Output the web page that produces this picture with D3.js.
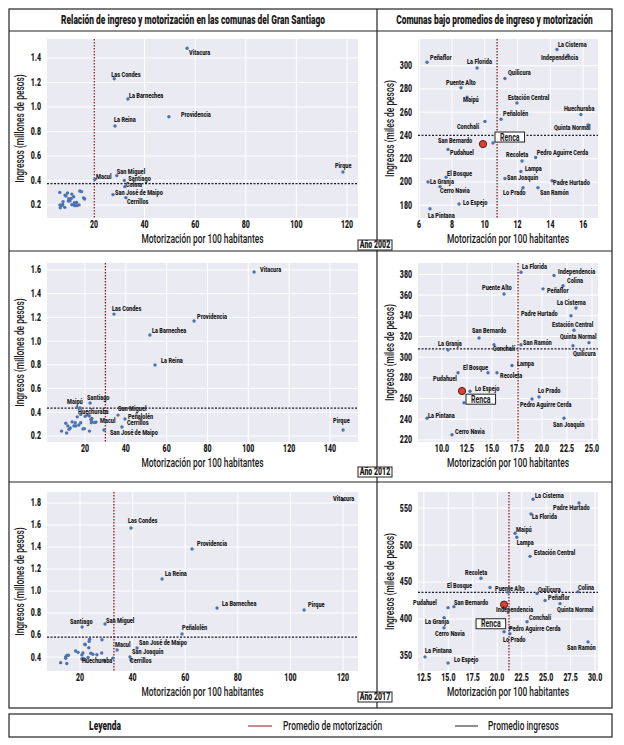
<!DOCTYPE html>
<html>
<head>
<meta charset="utf-8">
<script src="https://cdn.jsdelivr.net/npm/d3@7"></script>
<style>
body { margin: 0; background: #fff; }
text { font-family: "Roboto", "DejaVu Sans Condensed", sans-serif; fill: #1a1a1a; }
</style>
</head>
<body>
<svg id="chart" width="624" height="745"></svg>
<script>
// ---- data -----------------------------------------------------------
var years = ["2002", "2012", "2017"];

// comunas etiquetadas en el panel general: [comuna, motorización por 100 hab., ingreso en millones]
var general2002 = [
    ["Vitacura", 56.8, 1.48], ["Las Condes", 28.0, 1.23], ["La Barnechea", 33.4, 1.065],
    ["Providencia", 49.6, 0.92], ["La Reina", 28.3, 0.845], ["Pirque", 118.4, 0.47],
    ["Macul", 20.4, 0.41], ["San Miguel", 29.0, 0.44], ["Santiago", 32.0, 0.40],
    ["Colina", 32.2, 0.35], ["San José de Maipo", 27.5, 0.285], ["Cerrillos", 32.6, 0.26]
];
var general2012 = [
    ["Vitacura", 102.8, 1.583], ["Las Condes", 34.2, 1.228], ["Providencia", 73.4, 1.17],
    ["La Barnechea", 51.8, 1.051], ["La Reina", 54.3, 0.798], ["Pirque", 146.4, 0.25],
    ["Santiago", 22.5, 0.478], ["Maipú", 16.1, 0.44], ["Huechuraba", 17.6, 0.437],
    ["San Miguel", 36.2, 0.376], ["Peñalolén", 39.6, 0.343], ["Macul", 25.4, 0.317],
    ["Cerrillos", 38.1, 0.275], ["San José de Maipo", 29.3, 0.25]
];
var general2017 = [
    ["Vitacura", 120.0, 1.83], ["Las Condes", 39.4, 1.573], ["Providencia", 62.6, 1.382],
    ["La Reina", 51.2, 1.109], ["La Barnechea", 72.1, 0.845], ["Pirque", 105.2, 0.827],
    ["Santiago", 20.8, 0.673], ["San Miguel", 29.5, 0.70], ["Peñalolén", 58.8, 0.609],
    ["Macul", 34.1, 0.464], ["San José de Maipo", 41.7, 0.482], ["San Joaquín", 39.0, 0.40],
    ["Cerrillos", 39.4, 0.373], ["Huechuraba", 32.5, 0.39]
];

// comunas bajo ambos promedios: [comuna, motorización, ingreso en miles]
var bajo2002 = [
    ["Peñaflor", 6.48, 303], ["La Florida", 9.53, 298], ["La Cisterna", 14.4, 314],
    ["Independencia", 15.07, 309], ["Quilicura", 11.23, 289], ["Puente Alto", 8.55, 281],
    ["Maipú", 8.92, 273], ["Estación Central", 11.96, 268], ["Huechuraba", 15.86, 258],
    ["Peñalolén", 10.99, 254], ["Conchalí", 10.01, 252], ["Quinta Normal", 16.29, 249],
    ["San Bernardo", 9.89, 233], ["Renca", 10.5, 233.5], ["Pudahuel", 7.76, 228],
    ["Recoleta", 12.27, 218], ["Pedro Aguirre Cerda", 13.1, 221], ["Lampa", 12.2, 209],
    ["El Bosque", 7.64, 204], ["La Granja", 6.54, 200], ["Cerro Navia", 7.27, 196],
    ["San Joaquín", 11.23, 203], ["Padre Hurtado", 14.1, 201], ["Lo Prado", 12.33, 195],
    ["San Ramón", 13.24, 195], ["Lo Espejo", 8.43, 181], ["La Pintana", 6.66, 177]
];
var bajo2012 = [
    ["La Florida", 17.9, 382], ["Independencia", 21.2, 379], ["Colina", 22.1, 369],
    ["Peñaflor", 20.1, 366], ["Puente Alto", 16.2, 361], ["La Cisterna", 23.4, 347.5],
    ["Padre Hurtado", 22.9, 340], ["Estación Central", 23.2, 326], ["San Bernardo", 13.7, 318.5],
    ["Quinta Normal", 24.7, 314], ["San Ramón", 17.9, 312], ["Quilicura", 23.1, 311],
    ["Conchalí", 15.2, 312], ["La Granja", 10.6, 307], ["Lampa", 17.0, 292],
    ["El Bosque", 14.6, 285], ["Recoleta", 15.5, 285], ["Pudahuel", 11.6, 285],
    ["Lo Espejo", 12.8, 267], ["Renca", 12.2, 256], ["Lo Prado", 19.7, 261.5],
    ["Pedro Aguirre Cerda", 19.0, 259.6], ["La Pintana", 8.5, 241], ["San Joaquín", 22.2, 241],
    ["Cerro Navia", 11.0, 225]
];
var bajo2017 = [
    ["La Cisterna", 23.66, 562], ["Padre Hurtado", 28.36, 557], ["La Florida", 23.45, 542],
    ["Maipú", 21.82, 516], ["Lampa", 22.0, 510.6], ["Estación Central", 23.35, 484.7],
    ["Recoleta", 18.34, 455], ["El Bosque", 19.26, 442.6], ["Puente Alto", 21.1, 436],
    ["Quilicura", 24.07, 434.4], ["Colina", 28.26, 437], ["Peñaflor", 24.89, 425],
    ["Pudahuel", 14.97, 415.3], ["San Bernardo", 15.58, 416.7], ["Independencia", 20.7, 419.4],
    ["Quinta Normal", 26.42, 420.8], ["Conchalí", 23.05, 396.3], ["La Granja", 14.56, 401.7],
    ["Cerro Navia", 14.56, 388], ["Pedro Aguirre Cerda", 21.3, 388], ["Lo Prado", 21.3, 380],
    ["Renca", 20.7, 382.7], ["San Ramón", 29.28, 369], ["La Pintana", 12.62, 348.7],
    ["Lo Espejo", 14.97, 340.5]
];

// promedios [motorización, ingreso]
var promedioGeneral = { "2002": [20.1, 0.375], "2012": [30.0, 0.434], "2017": [32.9, 0.58] };
var promedioBajo = { "2002": [10.75, 240], "2012": [17.6, 308], "2017": [21.2, 436] };
// círculo rojo que resalta Renca
var marcaRenca = { "2002": [9.89, 232.6], "2012": [12.0, 267.3], "2017": [20.7, 419.4] };

var ticksGeneralX = { "2002": [20, 40, 60, 80, 100, 120], "2012": [20, 40, 60, 80, 100, 120, 140], "2017": [20, 40, 60, 80, 100, 120] };
var ticksGeneralY = { "2002": [0.2, 0.4, 0.6, 0.8, 1.0, 1.2, 1.4], "2012": [0.2, 0.4, 0.6, 0.8, 1.0, 1.2, 1.4, 1.6], "2017": [0.4, 0.6, 0.8, 1.0, 1.2, 1.4, 1.6, 1.8] };
var ticksBajoX = { "2002": [6, 8, 10, 12, 14, 16], "2012": [10, 12.5, 15, 17.5, 20, 22.5, 25], "2017": [12.5, 15, 17.5, 20, 22.5, 25, 27.5, 30] };
var ticksBajoY = { "2002": [180, 200, 220, 240, 260, 280, 300], "2012": [220, 240, 260, 280, 300, 320, 340, 360, 380], "2017": [350, 400, 450, 500, 550] };

// ---- layout ---------------------------------------------------------
var domGeneral = {
    "2002": { x: [1.42, 124.35], y: [0.094, 1.555] },
    "2012": { x: [1.4, 153.7], y: [0.149, 1.659] },
    "2017": { x: [7.45, 125.7], y: [0.273, 1.9] }
};
var domBajo = {
    "2002": { x: [5.93, 16.9], y: [169, 323] },
    "2012": { x: [7.6, 25.6], y: [218, 391] },
    "2017": { x: [11.9, 30.3], y: [329.6, 571.8] }
};

// label offsets (px) from each point to the label's left/middle
var offGeneral = {
    "2002": { "Vitacura": [2, 4], "Las Condes": [-3, -4], "La Barnechea": [1, -3], "Providencia": [12, -2],
        "La Reina": [-1, -6], "Pirque": [-8, -6], "Macul": [1, -3], "San Miguel": [0, -4], "Santiago": [4, -2],
        "Colina": [1, -2], "San José de Maipo": [2, -2], "Cerrillos": [1, 4] },
    "2012": { "Vitacura": [6, -2], "Las Condes": [-2, -5], "Providencia": [3, -4], "La Barnechea": [2, -4],
        "La Reina": [6, -4], "Pirque": [-10, -9], "Santiago": [-3, -5], "Maipú": [-10, -6], "Huechuraba": [-2, 4],
        "San Miguel": [0, -6], "Peñalolén": [3, -2], "Macul": [4, -1], "Cerrillos": [5, -4], "San José de Maipo": [6, 3] },
    "2017": { "Vitacura": [-10, -1], "Las Condes": [-3, -7], "Providencia": [5, -5], "La Reina": [3, -5],
        "La Barnechea": [5, -4], "Pirque": [4, -5], "Santiago": [-12, -5], "San Miguel": [1, -3], "Peñalolén": [0, -6],
        "Macul": [-2, -5], "San José de Maipo": [2, -5], "San Joaquín": [2, -5], "Cerrillos": [-1, 1], "Huechuraba": [-31, 3] }
};
var offBajo = {
    "2002": { "Peñaflor": [3, -5], "La Florida": [-10, -6], "La Cisterna": [1, -5], "Independencia": [-27, 2],
        "Quilicura": [3, -6], "Puente Alto": [-15, -5], "Maipú": [-4, 3], "Estación Central": [-9, -5],
        "Huechuraba": [-17, -6], "Peñalolén": [2, -6], "Conchalí": [-28, 5], "Quinta Normal": [-34, 3],
        "San Bernardo": [-45, -3], "Renca": [7, -6], "Pudahuel": [2, 3], "Recoleta": [-16, -6],
        "Pedro Aguirre Cerda": [1, -5], "Lampa": [4, -3], "El Bosque": [1, -4], "San Joaquín": [2, -1],
        "La Granja": [2, 0], "Padre Hurtado": [1, 2], "Cerro Navia": [0, 4], "Lo Prado": [-20, 5],
        "San Ramón": [2, 5], "Lo Espejo": [4, -1], "La Pintana": [-2, 7] },
    "2012": { "La Florida": [1, -6], "Independencia": [4, -4], "Colina": [4, -5], "Peñaflor": [4, 2],
        "Puente Alto": [-22, -6], "La Cisterna": [-19, -5], "Padre Hurtado": [-50, -2], "Estación Central": [-22, -6],
        "San Bernardo": [-7, -7], "Quinta Normal": [-29, -6], "San Ramón": [2, -2], "Quilicura": [0, 8],
        "Conchalí": [-1, 4], "La Granja": [-10, -6], "Lampa": [5, -2], "El Bosque": [-25, -5], "Recoleta": [3, 3],
        "Pudahuel": [-25, 6], "Lo Espejo": [5, -3], "Renca": [7, -3.5], "Lo Prado": [-1, -6],
        "Pedro Aguirre Cerda": [-12, 6], "La Pintana": [1, -3], "San Joaquín": [-11, 6], "Cerro Navia": [3, -3] },
    "2017": { "La Cisterna": [2, -4], "Padre Hurtado": [-26, 5], "La Florida": [1, 3], "Maipú": [1, -4],
        "Lampa": [0, 5], "Estación Central": [4, -4], "Recoleta": [-16, -6], "El Bosque": [-43, -2],
        "Puente Alto": [-13, -4], "Quilicura": [1, -4], "Colina": [0, -4], "Peñaflor": [3, -3],
        "Pudahuel": [-35, -5], "San Bernardo": [0, -4], "Independencia": [-8, 5], "Quinta Normal": [-3, 6],
        "Conchalí": [2, -4], "La Granja": [-19, 4], "Cerro Navia": [-9, 6], "Pedro Aguirre Cerda": [-1, 1],
        "Lo Prado": [-7, 6], "Renca": [-23, -8], "San Ramón": [-21, 6], "La Pintana": [0, -6], "Lo Espejo": [6, -3] }
};

var generalData = { "2002": general2002, "2012": general2012, "2017": general2017 };
var bajoData = { "2002": bajo2002, "2012": bajo2012, "2017": bajo2017 };

var frame = { left: 9, right: 612, top: 9, bottom: 708, divider: 377, titleBottom: 31 };
var rowSeparators = [251, 482];
var rowTops = { "2002": 39, "2012": 263, "2017": 492 };
var tagCentres = { "2002": 245, "2012": 472, "2017": 697 };
var plotH = 179;
var leftPlot = { x0: 47, x1: 358 };
var rightPlot = { x0: 418, x1: 598 };

var bg = "#eaeaf2";
var dotColour = "#4c72b0";
var motorColour = "#8b1c1c";
var ingresoColour = "#1c1c2c";
var SX = 0.7;   // horizontal squeeze to mimic the condensed face
var HEAVY = 900;

var svg = d3.select("#chart");

// condensed text helper
function ctext(parent, x, y, str, size, weight, anchor, rotate) {
    return parent.append("text")
        .attr("transform", "translate(" + x + "," + y + ")" + (rotate ? " rotate(" + rotate + ")" : "") + " scale(" + SX + ",1)")
        .attr("text-anchor", anchor || "start")
        .attr("dominant-baseline", "central")
        .attr("font-size", size)
        .attr("font-weight", weight || "normal")
        .text(str);
}

// ---- frame ----------------------------------------------------------
svg.append("rect")
    .attr("x", frame.left).attr("y", frame.top)
    .attr("width", frame.right - frame.left).attr("height", frame.bottom - frame.top)
    .attr("fill", "none").attr("stroke", "#222").attr("stroke-width", 1.2);
svg.append("line")
    .attr("x1", frame.divider).attr("x2", frame.divider)
    .attr("y1", frame.top).attr("y2", frame.bottom)
    .attr("stroke", "#222").attr("stroke-width", 1.2);
[frame.titleBottom].concat(rowSeparators).forEach(function(y) {
    svg.append("line")
        .attr("x1", frame.left).attr("x2", frame.right)
        .attr("y1", y).attr("y2", y)
        .attr("stroke", "#222").attr("stroke-width", 1.2);
});

ctext(svg, (frame.left + frame.divider) / 2, 20, "Relación de ingreso y motorización en las comunas del Gran Santiago", 12, HEAVY, "middle");
ctext(svg, (frame.divider + frame.right) / 2, 20, "Comunas bajo promedios de ingreso y motorización", 12, HEAVY, "middle");

// ---- one scatter panel ---------------------------------------------
function drawPanel(opts) {
    var top = opts.top;
    var x = d3.scaleLinear().domain(opts.xDomain).range([opts.x0, opts.x1]);
    var y = d3.scaleLinear().domain(opts.yDomain).range([top + plotH, top]);
    var g = svg.append("g");

    g.append("rect")
        .attr("x", opts.x0).attr("y", top)
        .attr("width", opts.x1 - opts.x0).attr("height", plotH)
        .attr("fill", bg);

    // grid
    g.selectAll(".gx").data(opts.xTicks).enter().append("line")
        .attr("x1", function(d) { return x(d); }).attr("x2", function(d) { return x(d); })
        .attr("y1", top).attr("y2", top + plotH)
        .attr("stroke", "#fff").attr("stroke-width", 1);
    g.selectAll(".gy").data(opts.yTicks).enter().append("line")
        .attr("x1", opts.x0).attr("x2", opts.x1)
        .attr("y1", function(d) { return y(d); }).attr("y2", function(d) { return y(d); })
        .attr("stroke", "#fff").attr("stroke-width", 1);

    // tick labels
    opts.xTicks.forEach(function(d) {
        ctext(g, x(d), top + plotH + 7, opts.xFormat(d), 10, HEAVY, "middle");
    });
    opts.yTicks.forEach(function(d) {
        ctext(g, opts.x0 - 6, y(d), opts.yFormat(d), 10, HEAVY, "end");
    });

    // axis titles
    ctext(g, (opts.x0 + opts.x1) / 2, top + plotH + 21, "Motorización por 100 habitantes", 12, 500, "middle");
    ctext(g, opts.yLabelX, top + plotH / 2, opts.yLabel, 12, 500, "middle", -90);

    // mean lines
    g.append("line")
        .attr("x1", x(opts.mean[0])).attr("x2", x(opts.mean[0]))
        .attr("y1", top).attr("y2", top + plotH)
        .attr("stroke", motorColour).attr("stroke-width", 1.3).attr("stroke-dasharray", "1.5,1.5");
    g.append("line")
        .attr("x1", opts.x0).attr("x2", opts.x1)
        .attr("y1", y(opts.mean[1])).attr("y2", y(opts.mean[1]))
        .attr("stroke", ingresoColour).attr("stroke-width", 1.2).attr("stroke-dasharray", "2,1.5");

    // points
    g.selectAll(".pt").data(opts.points).enter().append("circle")
        .attr("cx", function(d) { return x(d[1]); })
        .attr("cy", function(d) { return y(d[2]); })
        .attr("r", 1.7)
        .attr("fill", dotColour);

    if (opts.marca) {
        g.append("circle")
            .attr("cx", x(opts.marca[0])).attr("cy", y(opts.marca[1]))
            .attr("r", 3.6)
            .attr("fill", "#d9432f").attr("stroke", "#5a1a1a").attr("stroke-width", 1);
    }

    // labels
    opts.labelled.forEach(function(d) {
        var off = opts.offsets[d[0]] || [3, -4];
        var tx = x(d[1]) + off[0];
        var ty = y(d[2]) + off[1];
        if (d[0] === "Renca") {
            var t = ctext(g, tx, ty, d[0], 10, "bold", "start");
            var w = t.node().getComputedTextLength() * SX;
            g.insert("rect", function() { return t.node(); })
                .attr("x", tx - 5).attr("y", ty - 5)
                .attr("width", w + 10).attr("height", 10)
                .attr("fill", "#fff").attr("stroke", "#222").attr("stroke-width", 1);
        } else {
            ctext(g, tx, ty, d[0], 8, HEAVY, "start");
        }
    });
}

years.forEach(function(yr) {
    var top = rowTops[yr];
    var scaledBajo = bajoData[yr].map(function(d) { return [d[0], d[1], d[2] / 1000]; });

    drawPanel({
        top: top, x0: leftPlot.x0, x1: leftPlot.x1,
        xDomain: domGeneral[yr].x, yDomain: domGeneral[yr].y,
        xTicks: ticksGeneralX[yr], yTicks: ticksGeneralY[yr],
        xFormat: d3.format("d"), yFormat: d3.format(".1f"),
        yLabel: "Ingresos (millones de pesos)", yLabelX: 20,
        mean: promedioGeneral[yr],
        points: generalData[yr].concat(scaledBajo),
        labelled: generalData[yr],
        offsets: offGeneral[yr]
    });

    drawPanel({
        top: top, x0: rightPlot.x0, x1: rightPlot.x1,
        xDomain: domBajo[yr].x, yDomain: domBajo[yr].y,
        xTicks: ticksBajoX[yr], yTicks: ticksBajoY[yr],
        xFormat: yr === "2002" ? d3.format("d") : d3.format(".1f"), yFormat: d3.format("d"),
        yLabel: "Ingresos (miles de pesos)", yLabelX: 390,
        mean: promedioBajo[yr],
        points: bajoData[yr],
        labelled: bajoData[yr],
        offsets: offBajo[yr],
        marca: marcaRenca[yr]
    });

    // year tag straddling the divider
    var tagY = tagCentres[yr];
    svg.append("rect")
        .attr("x", 358).attr("y", tagY - 5).attr("width", 34).attr("height", 10)
        .attr("fill", "#fff").attr("stroke", "#222").attr("stroke-width", 1);
    ctext(svg, 375, tagY, "Año " + yr, 10, HEAVY, "middle");
});

// ---- legend ---------------------------------------------------------
var legY = 726;
svg.append("rect")
    .attr("x", frame.left).attr("y", 714).attr("width", frame.right - frame.left).attr("height", 23)
    .attr("fill", "#fff").attr("stroke", "#222").attr("stroke-width", 1.2);
ctext(svg, 105, legY, "Leyenda", 12, HEAVY, "middle");
svg.append("line").attr("x1", 248).attr("x2", 272).attr("y1", legY).attr("y2", legY)
    .attr("stroke", motorColour).attr("stroke-width", 1);
ctext(svg, 283, legY, "Promedio de motorización", 12, 500, "start");
svg.append("line").attr("x1", 455).attr("x2", 478).attr("y1", legY).attr("y2", legY)
    .attr("stroke", ingresoColour).attr("stroke-width", 1);
ctext(svg, 488, legY, "Promedio ingresos", 12, 500, "start");
</script>
</body>
</html>
